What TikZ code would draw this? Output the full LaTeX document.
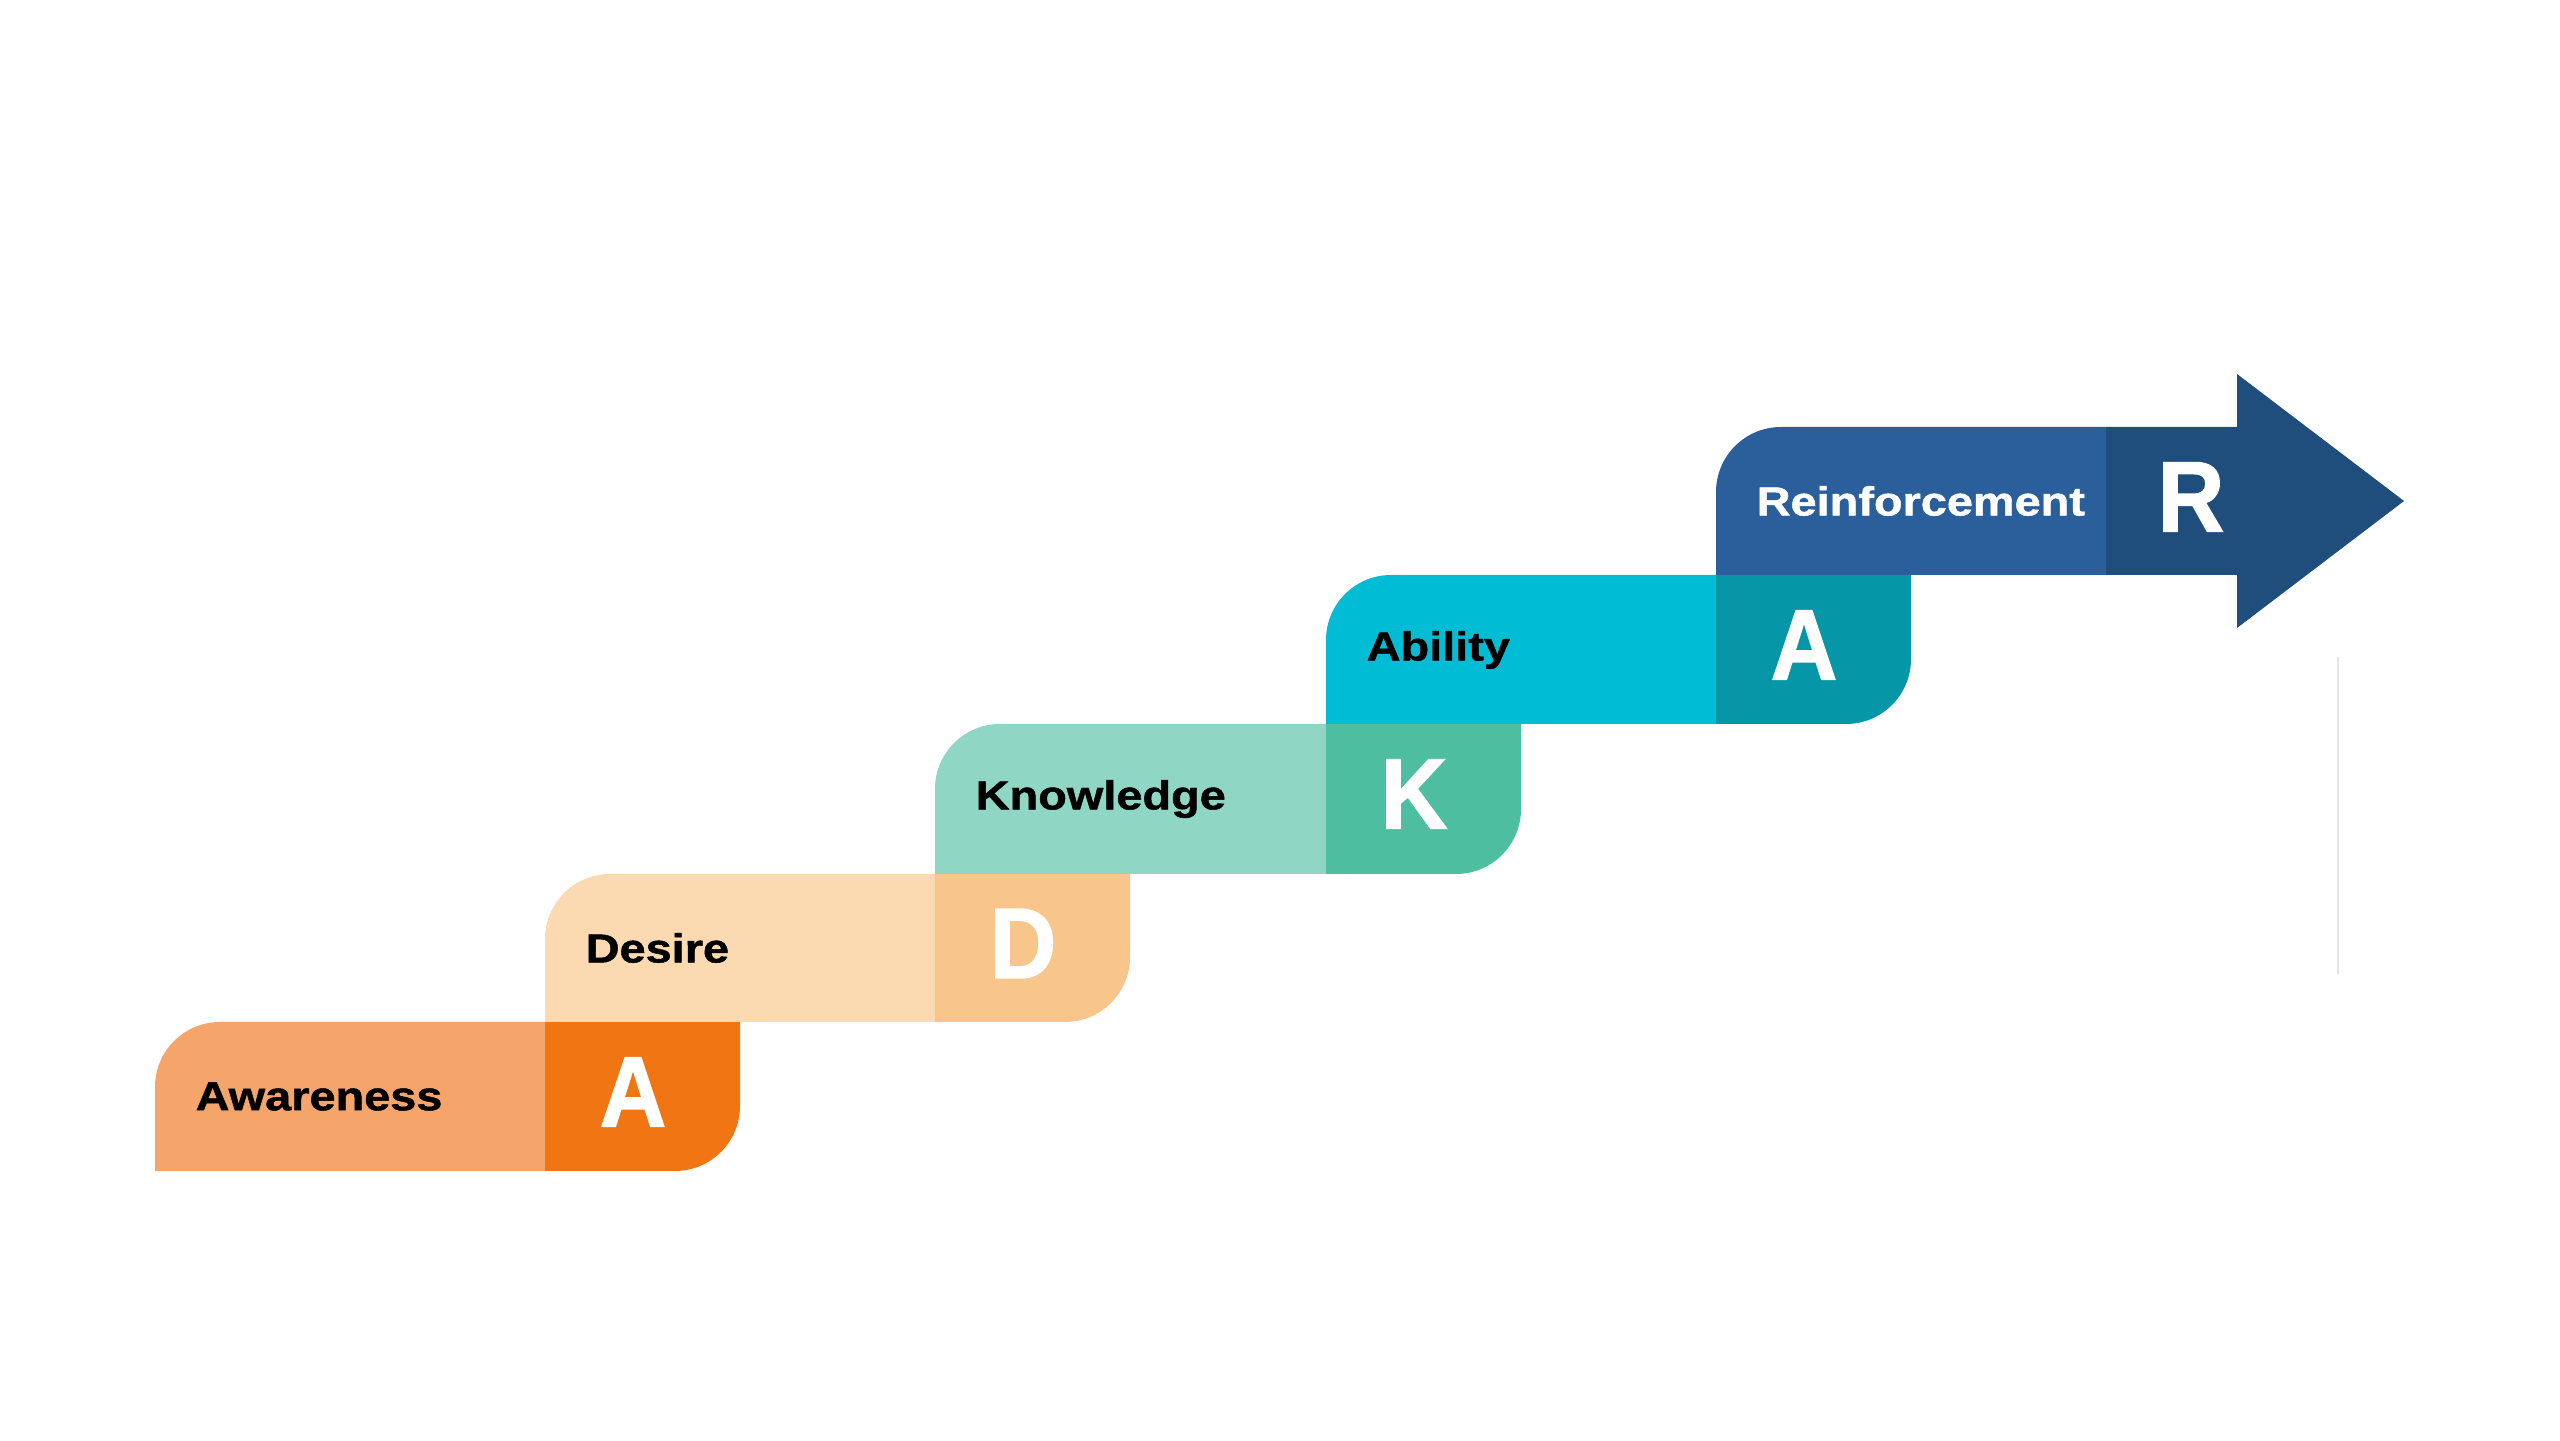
\documentclass[tikz,border=0pt]{standalone}
\usepackage{fontspec}
\setmainfont{Liberation Sans}
\newfontfamily\tagfont{Liberation Sans}[FakeStretch=1.16, FakeBold=1.2]
\newfontfamily\letterfont{Liberation Sans}[FakeStretch=0.92, FakeBold=1.5]
\usepackage{tikz}
\usetikzlibrary{positioning}

\definecolor{awareL}{HTML}{F6A56A}
\definecolor{awareD}{HTML}{F27513}
\definecolor{desireL}{HTML}{FBD9B1}
\definecolor{desireD}{HTML}{F8C68A}
\definecolor{knowL}{HTML}{8FD6C4}
\definecolor{knowD}{HTML}{4DBE9F}
\definecolor{abilL}{HTML}{00BCD4}
\definecolor{abilD}{HTML}{0597A7}
\definecolor{reinL}{HTML}{2A5F9B}
\definecolor{reinD}{HTML}{1F4D7C}

\begin{document}
\begin{tikzpicture}[
    tag/.style={anchor=west, inner sep=0pt, font=\tagfont\fontsize{11.5}{12}\selectfont\bfseries},
    letter/.style={inner sep=0pt, text=white, font=\letterfont\fontsize{28.5}{29}\selectfont\bfseries}
]
    \useasboundingbox (0,0) rectangle (25.6,14.4);

    % Awareness
    \fill[awareL] (1.55,2.69) -- (1.55,3.53) arc[start angle=180, end angle=90, radius=0.65] -- (5.45,4.18) -- (5.45,2.69) -- cycle;
    \fill[awareD] (5.45,2.69) -- (5.45,4.18) -- (7.40,4.18) -- (7.40,3.34) arc[start angle=0, end angle=-90, radius=0.65] -- cycle;
    \node[tag] (aware) at (1.95,3.435) {Awareness};
    \node[letter] (aA) at (6.33,3.48) {A};

    % Desire
    \fill[desireL] (5.45,4.18) -- (5.45,5.01) arc[start angle=180, end angle=90, radius=0.65] -- (9.35,5.66) -- (9.35,4.18) -- cycle;
    \fill[desireD] (9.35,4.18) -- (9.35,5.66) -- (11.30,5.66) -- (11.30,4.83) arc[start angle=0, end angle=-90, radius=0.65] -- cycle;
    \node[tag] (desire) at (5.85,4.92) {Desire};
    \node[letter] (dD) at (10.23,4.965) {D};

    % Knowledge
    \fill[knowL] (9.35,5.66) -- (9.35,6.51) arc[start angle=180, end angle=90, radius=0.65] -- (13.26,7.16) -- (13.26,5.66) -- cycle;
    \fill[knowD] (13.26,5.66) -- (13.26,7.16) -- (15.21,7.16) -- (15.21,6.31) arc[start angle=0, end angle=-90, radius=0.65] -- cycle;
    \node[tag] (know) at (9.75,6.41) {Knowledge};
    \node[letter] (kK) at (14.14,6.46) {K};

    % Ability
    \fill[abilL] (13.26,7.16) -- (13.26,8.00) arc[start angle=180, end angle=90, radius=0.65] -- (17.16,8.65) -- (17.16,7.16) -- cycle;
    \fill[abilD] (17.16,7.16) -- (17.16,8.65) -- (19.11,8.65) -- (19.11,7.81) arc[start angle=0, end angle=-90, radius=0.65] -- cycle;
    \node[tag] (abil) at (13.66,7.90) {Ability};
    \node[letter] (bA) at (18.04,7.95) {A};

    % Reinforcement arrow
    \fill[reinL] (17.16,8.65) -- (17.16,9.48) arc[start angle=180, end angle=90, radius=0.65] -- (21.06,10.13) -- (21.06,8.65) -- cycle;
    \fill[reinD] (21.06,8.65) -- (21.06,10.13) -- (22.37,10.13) -- (22.37,10.66) -- (24.04,9.39) -- (22.37,8.12) -- (22.37,8.65) -- cycle;
    \node[tag, text=white] (rein) at (17.56,9.39) {Reinforcement};
    \node[letter] (rR) at (21.91,9.43) {R};

    % faint rule
    \draw[gray!20, line width=0.6pt] (23.38,4.66) -- (23.38,7.83);

\end{tikzpicture}
\end{document}
